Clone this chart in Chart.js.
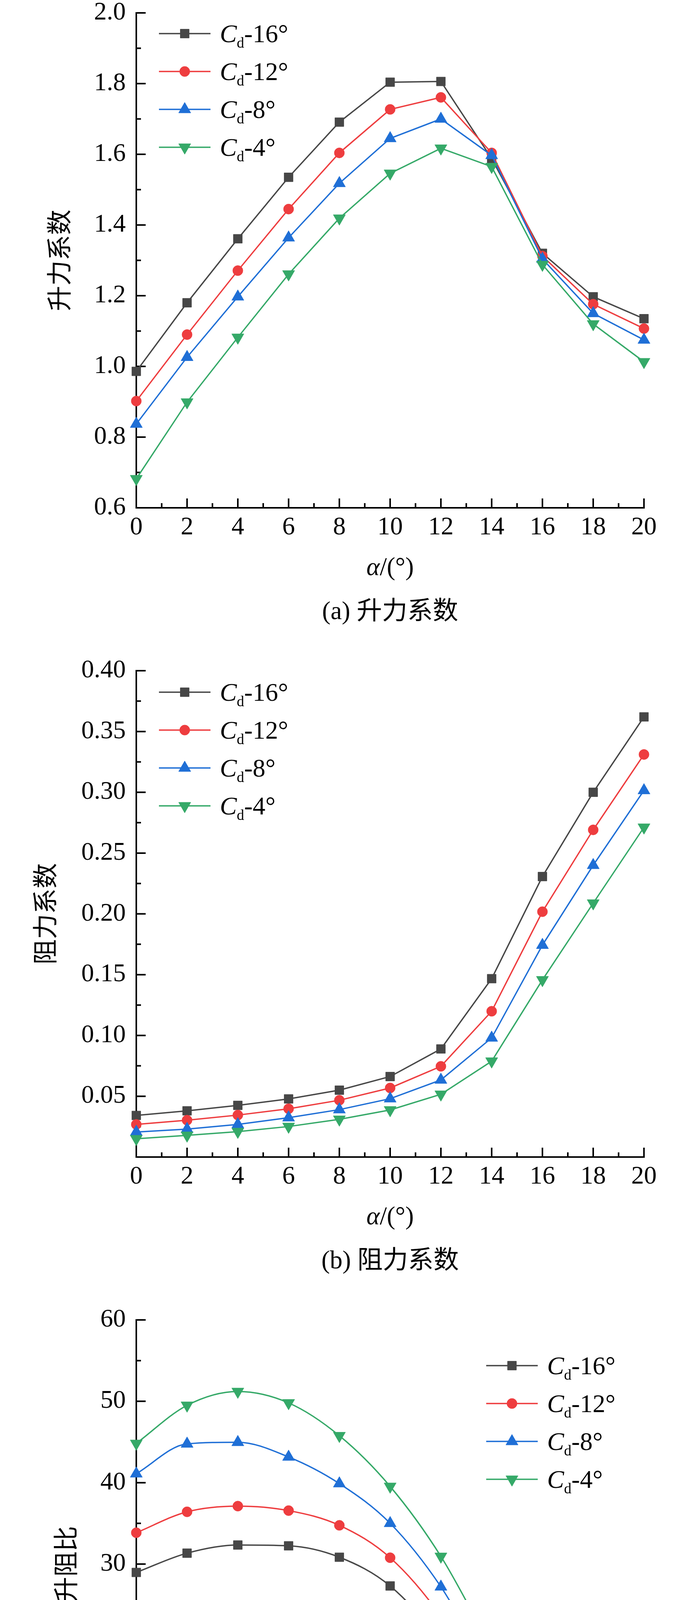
<!DOCTYPE html>
<html>
<head>
<meta charset="utf-8">
<script src="https://cdn.jsdelivr.net/npm/chart.js@4.4.0/dist/chart.umd.min.js"></script>
<style>
  html, body { margin: 0; padding: 0; background: #fff; }
  body { width: 1772px; height: 4943px; position: relative; overflow: hidden; }
  canvas { position: absolute; left: 0; }
</style>
</head>
<body>
<canvas id="chartLift" width="1772" height="1640" style="top:0px"></canvas>
<canvas id="chartDrag" width="1772" height="1660" style="top:1640px"></canvas>
<canvas id="chartRatio" width="1772" height="1643" style="top:3300px"></canvas>
<script>
// --- dados ---
const angles = [0, 2, 4, 6, 8, 10, 12, 14, 16, 18, 20];
const seriesAngles = ['16°', '12°', '8°', '4°'];

const lift16 = [0.986, 1.180, 1.361, 1.535, 1.691, 1.804, 1.806, 1.588, 1.320, 1.197, 1.135];
const lift12 = [0.902, 1.090, 1.271, 1.445, 1.604, 1.727, 1.761, 1.604, 1.312, 1.176, 1.107];
const lift8  = [0.837, 1.026, 1.197, 1.364, 1.518, 1.645, 1.700, 1.597, 1.304, 1.150, 1.075];
const lift4  = [0.682, 0.899, 1.082, 1.261, 1.419, 1.546, 1.617, 1.565, 1.288, 1.120, 1.013];

const drag16 = [0.0342, 0.0380, 0.0425, 0.0478, 0.0550, 0.0662, 0.0889, 0.1467, 0.2307, 0.3000, 0.3620];
const drag12 = [0.0268, 0.0303, 0.0345, 0.0397, 0.0467, 0.0568, 0.0746, 0.1199, 0.2018, 0.2691, 0.3311];
const drag8  = [0.0206, 0.0230, 0.0268, 0.0324, 0.0390, 0.0480, 0.0634, 0.0980, 0.1743, 0.2400, 0.3015];
const drag4  = [0.0150, 0.0178, 0.0209, 0.0251, 0.0310, 0.0387, 0.0516, 0.0788, 0.1457, 0.2088, 0.2712];

const ratio16 = [28.97, 31.34, 32.34, 32.24, 30.84, 27.31, 20.47, 10.81, 5.68, 3.92, 3.07];
const ratio12 = [33.85, 36.42, 37.12, 36.57, 34.76, 30.78, 23.59, 13.33, 6.44, 4.23, 3.27];
const ratio8  = [41.10, 44.77, 44.97, 43.16, 39.89, 35.01, 27.21, 16.50, 7.60, 4.58, 3.47];
const ratio4  = [44.82, 49.50, 51.20, 49.80, 45.77, 39.54, 30.94, 19.67, 8.70, 5.28, 3.77];

// --- estilo ---
const SERIF = "'Liberation Serif', 'Times New Roman', 'Noto Sans CJK SC', serif";
const FS = 65;
const styles = [
    { color: '#474747', pointStyle: 'rect',     radius: 16, rotation: 0 },
    { color: '#ee3d3f', pointStyle: 'circle',   radius: 13, rotation: 0 },
    { color: '#1f6fd6', pointStyle: 'triangle', radius: 18, rotation: 0 },
    { color: '#35a968', pointStyle: 'triangle', radius: 18, rotation: 180 }
];

function montarDatasets(lista, tension) {
    return lista.map((vals, i) => ({
        label: 'Cd-' + seriesAngles[i],
        data: angles.map((a, k) => ({ x: a, y: vals[k] })),
        borderColor: styles[i].color,
        backgroundColor: styles[i].color,
        pointBackgroundColor: styles[i].color,
        pointBorderColor: styles[i].color,
        pointBorderWidth: 1,
        borderWidth: 3.5,
        pointStyle: styles[i].pointStyle,
        pointRadius: styles[i].radius,
        pointRotation: styles[i].rotation,
        tension: tension,
        cubicInterpolationMode: tension > 0 ? 'monotone' : 'default',
        clip: false,
        order: 4 - i
    }));
}

// eixos com ticks para dentro, legenda com subscrito, titulos e legenda da figura
const figurePlugin = {
    id: 'figure',
    beforeDatasetsDraw(chart, args, o) {
        const { ctx, chartArea: a, scales: { x, y } } = chart;
        ctx.save();
        ctx.strokeStyle = '#000';
        ctx.lineWidth = 4;
        ctx.beginPath();
        ctx.moveTo(a.left, a.top - 2);
        ctx.lineTo(a.left, a.bottom + 2);
        ctx.moveTo(a.left - 2, a.bottom);
        ctx.lineTo(a.right + 2, a.bottom);
        // x ticks
        const xt = x.ticks.map(t => t.value);
        xt.forEach((v, i) => {
            const px = x.getPixelForValue(v);
            ctx.moveTo(px, a.bottom);
            ctx.lineTo(px, a.bottom - 24);
            if (i < xt.length - 1) {
                const pm = x.getPixelForValue((v + xt[i + 1]) / 2);
                ctx.moveTo(pm, a.bottom);
                ctx.lineTo(pm, a.bottom - 12);
            }
        });
        // y ticks
        const yt = y.ticks.map(t => t.value);
        yt.forEach((v, i) => {
            const py = y.getPixelForValue(v);
            ctx.moveTo(a.left, py);
            ctx.lineTo(a.left + 24, py);
            if (i < yt.length - 1) {
                const pm = y.getPixelForValue((v + yt[i + 1]) / 2);
                ctx.moveTo(a.left, pm);
                ctx.lineTo(a.left + 12, pm);
            }
        });
        ctx.stroke();
        ctx.restore();
    },
    afterDraw(chart, args, o) {
        const { ctx, chartArea: a } = chart;
        ctx.save();
        ctx.fillStyle = '#000';

        // legenda
        chart.data.datasets.forEach((ds, i) => {
            const ly = o.legendY + i * o.legendDy;
            ctx.strokeStyle = ds.borderColor;
            ctx.lineWidth = ds.borderWidth;
            ctx.beginPath();
            ctx.moveTo(o.legendX, ly);
            ctx.lineTo(o.legendX + 132, ly);
            ctx.stroke();
            ctx.fillStyle = ds.pointBackgroundColor;
            ctx.strokeStyle = ds.pointBorderColor;
            ctx.lineWidth = 1;
            Chart.helpers.drawPoint(ctx, {
                pointStyle: ds.pointStyle, radius: ds.pointRadius,
                rotation: ds.pointRotation, borderWidth: 1
            }, o.legendX + 66, ly);

            ctx.fillStyle = '#000';
            ctx.textBaseline = 'alphabetic';
            ctx.textAlign = 'left';
            let tx = o.legendX + 156;
            const base = ly + 22;
            ctx.font = 'italic ' + FS + 'px ' + SERIF;
            ctx.fillText('C', tx, base);
            tx += ctx.measureText('C').width;
            ctx.font = '38px ' + SERIF;
            ctx.fillText('d', tx, base + 14);
            tx += ctx.measureText('d').width;
            ctx.font = FS + 'px ' + SERIF;
            ctx.fillText('-' + seriesAngles[i], tx, base);
        });

        // titulo eixo y
        ctx.save();
        ctx.translate(o.yTitleX, (a.top + a.bottom) / 2);
        ctx.rotate(-Math.PI / 2);
        ctx.font = FS + 'px ' + SERIF;
        ctx.textAlign = 'center';
        ctx.textBaseline = 'middle';
        ctx.fillText(o.yTitle, 0, 0);
        ctx.restore();

        // titulo eixo x: α/(°)
        const cx = (a.left + a.right) / 2;
        const ty = a.bottom + 172;
        ctx.textBaseline = 'alphabetic';
        ctx.textAlign = 'left';
        ctx.font = 'italic ' + FS + 'px ' + SERIF;
        const wA = ctx.measureText('α').width;
        ctx.font = FS + 'px ' + SERIF;
        const wR = ctx.measureText('/(°)').width;
        let sx = cx - (wA + wR) / 2;
        ctx.font = 'italic ' + FS + 'px ' + SERIF;
        ctx.fillText('α', sx, ty);
        ctx.font = FS + 'px ' + SERIF;
        ctx.fillText('/(°)', sx + wA, ty);

        // legenda da figura
        ctx.textAlign = 'center';
        ctx.textBaseline = 'middle';
        ctx.font = FS + 'px ' + SERIF;
        ctx.fillText(o.caption, cx, a.bottom + 268);
        ctx.restore();
    }
};

function criarGrafico(id, datasets, cfg) {
    return new Chart(document.getElementById(id), {
        type: 'line',
        data: { datasets: datasets },
        plugins: [figurePlugin],
        options: {
            responsive: false,
            animation: false,
            devicePixelRatio: 1,
            layout: { padding: { left: 0, right: 123, top: cfg.top, bottom: 0 } },
            plugins: {
                legend: { display: false },
                tooltip: { enabled: false },
                figure: cfg.figure
            },
            scales: {
                x: {
                    type: 'linear', min: 0, max: 20,
                    grid: { display: false, drawTicks: false },
                    border: { display: false },
                    ticks: {
                        stepSize: 2, autoSkip: false, maxRotation: 0,
                        padding: 12, color: '#000',
                        font: { family: SERIF, size: FS }
                    },
                    afterFit: s => { s.height = cfg.xHeight; s.paddingLeft = 0; s.paddingRight = 0; }
                },
                y: {
                    type: 'linear', min: cfg.yMin, max: cfg.yMax,
                    grid: { display: false, drawTicks: false },
                    border: { display: false },
                    ticks: {
                        stepSize: cfg.yStep, padding: 27, color: '#000',
                        font: { family: SERIF, size: FS },
                        callback: v => (cfg.hideZero && Math.abs(v) < 1e-9) ? '' : v.toFixed(cfg.decimals)
                    },
                    afterFit: s => { s.width = 349; s.paddingTop = 0; s.paddingBottom = 0; }
                }
            }
        }
    });
}

criarGrafico('chartLift', montarDatasets([lift16, lift12, lift8, lift4], 0), {
    top: 33, xHeight: 1640 - 1300, yMin: 0.6, yMax: 2.0, yStep: 0.2, decimals: 1, hideZero: false,
    figure: { legendX: 407, legendY: 86, legendDy: 97, yTitle: '升力系数', yTitleX: 158, caption: '(a) 升力系数' }
});

criarGrafico('chartDrag', montarDatasets([drag16, drag12, drag8, drag4], 0), {
    top: 1717 - 1640, xHeight: 3300 - 2962, yMin: 0, yMax: 0.40, yStep: 0.05, decimals: 2, hideZero: true,
    figure: { legendX: 407, legendY: 1772 - 1640, legendDy: 97, yTitle: '阻力系数', yTitleX: 122, caption: '(b) 阻力系数' }
});

criarGrafico('chartRatio', montarDatasets([ratio16, ratio12, ratio8, ratio4], 0.4), {
    top: 3379 - 3300, xHeight: 4943 - 4629, yMin: 0, yMax: 60, yStep: 10, decimals: 0, hideZero: true,
    figure: { legendX: 1245, legendY: 3496 - 3300, legendDy: 97, yTitle: '升阻比', yTitleX: 175, caption: '(c) 升阻比' }
});
</script>
</body>
</html>
